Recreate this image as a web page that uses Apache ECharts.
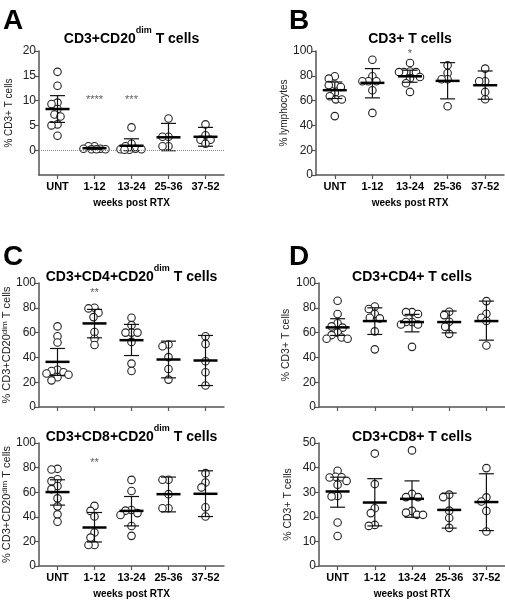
<!DOCTYPE html>
<html><head><meta charset="utf-8">
<script src="https://cdn.jsdelivr.net/npm/echarts@6/dist/echarts.min.js"></script>
<style>html,body{margin:0;padding:0;background:#fff}#c{width:505px;height:600px}</style>
</head><body><div id="c"></div>
<script>
// ---------------- DATA ----------------
const categories = ['UNT', '1-12', '13-24', '25-36', '37-52'];
const xAxisTitle = 'weeks post RTX';

// Panel A: CD3+CD20dim T cells (% CD3+ T cells)
const aValues = [
  [15.8, 13.0, 9.6, 9.3, 8.3, 7.2, 6.8, 5.2, 5.0, 2.9],
  [0.8, 0.8, 0.3, 0.3, 0.2, 0.2, 0.2],
  [4.6, 1.3, 0.8, 0.3, 0.2, 0.2, 0.1, 0.1],
  [6.4, 2.7, 2.7, 0.8, 0.8],
  [5.2, 3.0, 2.1, 2.1, 1.3]
];
const aMean = [8.3, 0.4, 0.9, 2.6, 2.7];
const aLow = [5.6, 0.2, -0.1, -0.1, 0.8];
const aHigh = [11.0, 0.6, 2.3, 5.4, 4.6];
const aStars = ['', '****', '***', '', ''];
const aStarLevel = 10.8;
const aTicks = [0, 5, 10, 15, 20];

// Panel B: CD3+ T cells (% lymphocytes)
const bValues = [
  [79.6, 77.7, 73, 72.5, 71, 66.2, 63.5, 61, 60.9, 47.5],
  [93, 79.6, 75.6, 75.6, 75.6, 68.4, 50.1],
  [90.3, 83.5, 83, 83, 83, 79, 78, 74, 67],
  [88.5, 82.3, 77.2, 77.2, 55.5],
  [85.8, 75.6, 75.6, 67, 61.1]
];
const bMean = [68.4, 74.3, 79.6, 75.9, 72.4];
const bLow = [61.7, 62.2, 74.8, 61.4, 61.1];
const bHigh = [75, 85.8, 84.5, 90.6, 83.9];
const bStars = ['', '', '*', '', ''];
const bStarLevel = 100;
const bTicks = [0, 20, 40, 60, 80, 100];

// Panel C top: CD3+CD4+CD20dim T cells
const c1Values = [
  [65, 57, 52, 30, 29, 28, 27, 26, 24, 21.5],
  [80, 79.5, 76, 72.5, 60.5, 55, 50],
  [72, 66, 60, 60, 60, 52.5, 35, 29],
  [50.4, 49, 40.2, 30.7, 22.1],
  [57.1, 50.9, 36.9, 28, 17.3]
];
const c1Mean = [36.4, 67.4, 53.9, 38.3, 37.5];
const c1Low = [25.5, 55.8, 41.5, 23.5, 17.3];
const c1High = [47.2, 78.7, 66.6, 53.1, 57.7];
const c1Stars = ['', '**', '', '', ''];
const c1StarLevel = 94;
const c1Ticks = [0, 20, 40, 60, 80, 100];

// Panel C bottom: CD3+CD8+CD20dim T cells
const c2Values = [
  [79, 78.5, 70.5, 69, 65, 62.5, 55, 48.5, 42, 36],
  [48.9, 44.8, 40.2, 27.2, 23.1, 17.1, 17.1],
  [70, 61, 45.5, 45, 43, 41.5, 32.5, 24.5],
  [70.1, 70.1, 58.4, 47, 47],
  [75.5, 67.9, 63.9, 47.8, 40.2]
];
const c2Mean = [60.1, 31.3, 44.8, 58.4, 58.7];
const c2Low = [49.5, 19.5, 32.6, 44, 40.2];
const c2High = [70.1, 43.5, 56.5, 72.3, 77.4];
const c2Stars = ['', '**', '', '', ''];
const c2StarLevel = 86.5;
const c2Ticks = [0, 20, 40, 60, 80, 100];

// Panel D top: CD3+CD4+ T cells
const d1Values = [
  [85.7, 75, 67.5, 65, 64, 60, 58, 56, 55, 55],
  [81, 79, 75, 72, 71.5, 61, 46.5],
  [76.5, 76.5, 75, 68.5, 68.5, 66.5, 66.5, 48.5],
  [76.8, 74.1, 68.7, 64.7, 59],
  [85.4, 75.2, 72, 69.3, 49.6]
];
const d1Mean = [64.2, 69.3, 68.5, 68.5, 69.3];
const d1Low = [57.7, 58.5, 60.6, 59.8, 53.9];
const d1High = [71.2, 80, 74.7, 77.4, 85.4];
const d1Ticks = [0, 20, 40, 60, 80, 100];

// Panel D bottom: CD3+CD8+ T cells
const d2Values = [
  [38.7, 36.3, 36.1, 36, 34.6, 33, 28.5, 28.3, 17.7, 12.2],
  [45.7, 33.3, 23.5, 21.5, 16.7, 16.3],
  [47, 29.3, 28, 28, 22.4, 21.7, 20.8, 20.8],
  [29, 28, 22.5, 19.5, 15.5],
  [39.8, 27.9, 26.2, 22.4, 14]
];
const d2Mean = [30.3, 25.8, 27.3, 22.8, 26];
const d2Low = [23.9, 16.3, 19.8, 15.4, 14.4];
const d2High = [36.1, 35.5, 34.6, 29.6, 37.5];
const d2Ticks = [0, 10, 20, 30, 40, 50];

// ---------------- LAYOUT / STYLE ----------------
const FONT = '"Liberation Sans", Arial, Helvetica, sans-serif';
const panels = [
  { values: aValues, mean: aMean, low: aLow, high: aHigh, stars: aStars, starLevel: aStarLevel, ticks: aTicks,
    yMin: -5, yMax: 20, grid: { left: 39, top: 51, width: 185, height: 124 }, zeroLine: true,
    title: '{b|CD3+CD20}{s|dim}{b| T cells}', yName: '{n|% CD3+ T cells}', yGap: 25, nameSize: 10, xName: true },
  { values: bValues, mean: bMean, low: bLow, high: bHigh, stars: bStars, starLevel: bStarLevel, ticks: bTicks,
    yMin: 0, yMax: 100, grid: { left: 316, top: 51, width: 188, height: 124 },
    title: '{b|CD3+ T cells}', yName: '{n|% lymphocytes}', yGap: 23, nameSize: 10, xName: true },
  { values: c1Values, mean: c1Mean, low: c1Low, high: c1High, stars: c1Stars, starLevel: c1StarLevel, ticks: c1Ticks,
    yMin: 0, yMax: 100, grid: { left: 39, top: 283, width: 185, height: 124 },
    title: '{b|CD3+CD4+CD20}{s|dim}{b| T cells}', yName: '{n|% CD3+CD20}{s2|dim}{n| T cells}', yGap: 24, nameSize: 11, xName: false },
  { values: d1Values, mean: d1Mean, low: d1Low, high: d1High, stars: null, ticks: d1Ticks,
    yMin: 0, yMax: 100, grid: { left: 319, top: 283, width: 186, height: 124 },
    title: '{b|CD3+CD4+ T cells}', yName: '{n|% CD3+ T cells}', yGap: 25, nameSize: 10.5, xName: false },
  { values: c2Values, mean: c2Mean, low: c2Low, high: c2High, stars: c2Stars, starLevel: c2StarLevel, ticks: c2Ticks,
    yMin: 0, yMax: 100, grid: { left: 39, top: 443, width: 185, height: 123 },
    title: '{b|CD3+CD8+CD20}{s|dim}{b| T cells}', yName: '{n|% CD3+CD20}{s2|dim}{n| T cells}', yGap: 24, nameSize: 11, xName: true },
  { values: d2Values, mean: d2Mean, low: d2Low, high: d2High, stars: null, ticks: d2Ticks,
    yMin: 0, yMax: 50, grid: { left: 319, top: 443, width: 186, height: 123 },
    title: '{b|CD3+CD8+ T cells}', yName: '{n|% CD3+ T cells}', yGap: 25, nameSize: 10.5, xName: true }
];
const letters = [
  { t: 'A', left: 3, top: 7 }, { t: 'B', left: 289, top: 7 },
  { t: 'C', left: 3, top: 243 }, { t: 'D', left: 289, top: 243 }
];
const titleY = [36, 36, 274, 274, 434, 434];

const SYM = 7.5;
// simple beeswarm to spread overlapping points horizontally (pixel offsets)
function swarm(vals, pxPerUnit, d, maxOff) {
  const placed = [];
  const out = new Array(vals.length).fill(0);
  const order = vals.map((v, i) => i).sort((a, b) => vals[b] - vals[a]);
  for (const i of order) {
    const y = vals[i] * pxPerUnit;
    let best = 0, bestScore = -1, found = false;
    for (let k = 0; k <= maxOff && !found; k++) {
      for (const s of (k === 0 ? [0] : [-k, k])) {
        let minD = Infinity;
        for (const p of placed) minD = Math.min(minD, Math.hypot(p.x - s, p.y - y));
        if (minD >= d) { best = s; found = true; break; }
        if (minD > bestScore) { bestScore = minD; best = s; }
      }
    }
    placed.push({ x: best, y });
    out[i] = best;
  }
  return out;
}

const option = {
  animation: false,
  backgroundColor: '#fff',
  textStyle: { fontFamily: FONT },
  title: [], grid: [], xAxis: [], yAxis: [], series: []
};

letters.forEach(l => option.title.push({
  text: l.t, left: l.left, top: l.top, padding: 0,
  textStyle: { fontSize: 28, fontWeight: 'bold', color: '#000', fontFamily: FONT }
}));

const axisCol = '#555';
panels.forEach((p, k) => {
  const g = p.grid;
  option.grid.push({ left: g.left, top: g.top, width: g.width, height: g.height, containLabel: false });
  option.title.push({
    text: p.title, left: g.left + g.width / 2, top: titleY[k] - 10, textAlign: 'center', padding: 0,
    textStyle: {
      fontFamily: FONT,
      rich: {
        b: { fontSize: 14, fontWeight: 'bold', color: '#000', fontFamily: FONT, lineHeight: 20, verticalAlign: 'bottom' },
        s: { fontSize: 9, fontWeight: 'bold', color: '#000', fontFamily: FONT, lineHeight: 20, verticalAlign: 'top' }
      }
    }
  });
  option.xAxis.push({
    type: 'category', gridIndex: k, data: categories, boundaryGap: true,
    name: p.xName ? xAxisTitle : '', nameLocation: 'middle', nameGap: 23,
    nameTextStyle: { fontSize: 10, fontWeight: 'bold', color: '#000', fontFamily: FONT },
    axisLine: { onZero: false, lineStyle: { color: axisCol, width: 1.5 } },
    axisTick: { show: true, alignWithLabel: true, length: 4, lineStyle: { color: axisCol, width: 1.2 } },
    axisLabel: { show: p.xName, fontSize: 11, fontWeight: 'bold', color: '#000', margin: 6, fontFamily: FONT },
    splitLine: { show: false }
  });
  option.yAxis.push({
    type: 'value', gridIndex: k, min: p.yMin, max: p.yMax,
    name: p.yName, nameLocation: 'middle', nameGap: p.yGap,
    nameTextStyle: {
      fontFamily: FONT, color: '#222',
      rich: {
        n: { fontSize: p.nameSize, color: '#222', fontFamily: FONT },
        s2: { fontSize: 8, color: '#222', fontFamily: FONT, verticalAlign: 'top' }
      }
    },
    axisLine: { show: true, lineStyle: { color: axisCol, width: 1.5 } },
    axisTick: { show: true, length: 4, customValues: p.ticks, lineStyle: { color: axisCol, width: 1.2 } },
    axisLabel: { fontSize: 12, color: '#222', margin: 3, customValues: p.ticks, fontFamily: FONT },
    splitLine: { show: false }
  });

  const pxPerUnit = g.height / (p.yMax - p.yMin);
  const pts = [];
  p.values.forEach((vals, ci) => {
    const offs = swarm(vals, pxPerUnit, 6, 11);
    vals.forEach((v, j) => pts.push({ value: [ci, v], symbolOffset: [offs[j], 0] }));
  });
  const scatter = {
    type: 'scatter', xAxisIndex: k, yAxisIndex: k, data: pts,
    symbol: 'circle', symbolSize: SYM, z: 2,
    itemStyle: { color: '#fff', borderColor: '#222', borderWidth: 1.1, opacity: 1 }
  };
  if (p.zeroLine) {
    scatter.markLine = {
      silent: true, symbol: ['none', 'none'], label: { show: false },
      lineStyle: { type: 'dotted', color: '#888', width: 1 },
      data: [{ yAxis: 0 }]
    };
  }
  option.series.push(scatter);

  option.series.push({
    type: 'custom', xAxisIndex: k, yAxisIndex: k, z: 3, clip: false,
    data: categories.map((c, i) => [i, p.mean[i], p.low[i], p.high[i]]),
    encode: { x: 0, y: [1, 2, 3] },
    renderItem: function (params, api) {
      const c = api.coord([api.value(0), api.value(1)]);
      const lo = api.coord([api.value(0), api.value(2)]);
      const hi = api.coord([api.value(0), api.value(3)]);
      const mw = 12, cw = 7.5;
      const st = { stroke: '#111', lineWidth: 1.2 };
      return {
        type: 'group', children: [
          { type: 'line', shape: { x1: c[0], y1: lo[1], x2: c[0], y2: hi[1] }, style: st },
          { type: 'line', shape: { x1: c[0] - cw, y1: lo[1], x2: c[0] + cw, y2: lo[1] }, style: st },
          { type: 'line', shape: { x1: c[0] - cw, y1: hi[1], x2: c[0] + cw, y2: hi[1] }, style: st },
          { type: 'line', shape: { x1: c[0] - mw, y1: c[1], x2: c[0] + mw, y2: c[1] }, style: { stroke: '#000', lineWidth: 2.5 } }
        ]
      };
    }
  });

  if (p.stars) {
    option.series.push({
      type: 'scatter', xAxisIndex: k, yAxisIndex: k, z: 4, clip: false,
      symbol: 'circle', symbolSize: 1, itemStyle: { color: 'rgba(0,0,0,0)' },
      data: p.stars.map((s, i) => ({ value: [i, p.starLevel], name: s })).filter(d => d.name),
      label: {
        show: true, position: 'inside', offset: [0, 3],
        formatter: d => d.name, fontSize: 11, color: '#333', fontFamily: FONT
      }
    });
  }
});

const chart = echarts.init(document.getElementById('c'), null, { renderer: 'canvas' });
chart.setOption(option);
</script>
</body></html>
